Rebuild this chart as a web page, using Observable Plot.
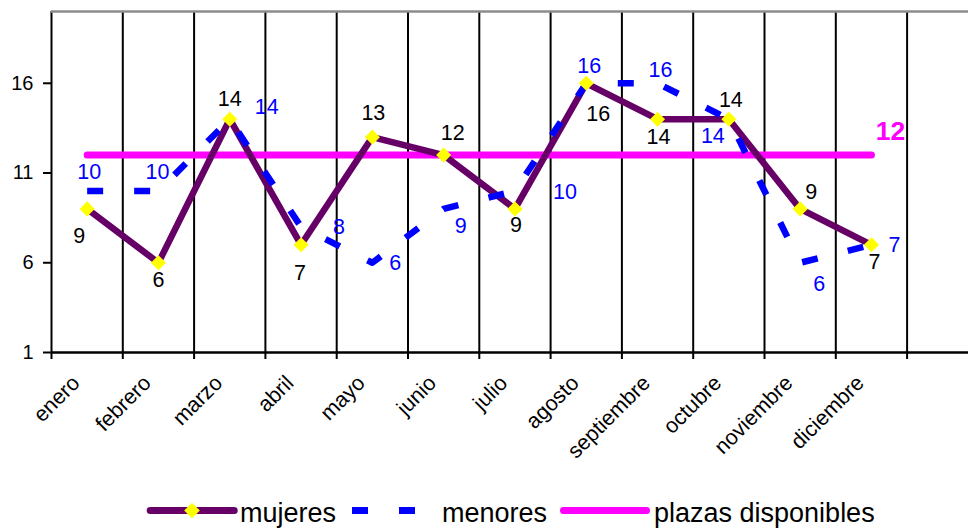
<!DOCTYPE html>
<html><head><meta charset="utf-8">
<script src="https://cdn.jsdelivr.net/npm/d3@7"></script>
<script src="https://cdn.jsdelivr.net/npm/@observablehq/plot@0.6"></script>
<style>
html,body{margin:0;padding:0;background:#fff;overflow:hidden;}
#chart{position:relative;width:968px;height:528px;font-family:"Liberation Sans",Arial,sans-serif;}
#legend{position:absolute;left:0;top:490px;width:968px;height:38px;}
#legend .t{position:absolute;top:10px;font-size:27px;line-height:27px;color:#000;white-space:nowrap;}
#legend svg{position:absolute;}
</style></head><body>
<div id="chart"><div id="plot"></div><div id="legend"></div></div>
<script>
// ---- data ----
const months = ["enero","febrero","marzo","abril","mayo","junio","julio","agosto","septiembre","octubre","noviembre","diciembre"];
const mujeres = [9, 6, 14, 7, 13, 12, 9, 16, 14, 14, 9, 7];
const menores = [10, 10, 14, 8, 6, 9, 10, 16, 16, 14, 6, 7];
const plazas = [12, 12, 12, 12, 12, 12, 12, 12, 12, 12, 12, 12];
const yTicks = [1, 6, 11, 16];
const yDomain = [1, 20];
const seriesNames = ["mujeres", "menores", "plazas disponibles"];

// ---- label placement (pixel offsets from each point) ----
const mujeresDx = [-8, 0, 0, -1, 1, 9, 1, 12, 1, 2, 11, 3];
const mujeresDy = [27, 17, -20, 28, -24, -22, 16, 31, 18, -19, -17, 17];
const menoresDx = [2, -1, 37, 38, 23, 17, 50, 3, 3, -16, 19, 23];
const menoresDy = [-19, -19, -12, 0, 0, 17, 1, -17, -13, 17, 21, 0];

const colors = {mujeres: "#660066", marker: "#FFFF00", menores: "#0000FF", plazas: "#FF00FF"};
const slots = months.length + 1; // Excel leaves one empty category at the end
const idx = d3.range(months.length);
const cx = i => i + 0.5;

const diamond = {draw(ctx, size) {
  const r = Math.sqrt(size) * 0.62625;
  ctx.moveTo(0, -r); ctx.lineTo(r, 0); ctx.lineTo(0, r); ctx.lineTo(-r, 0); ctx.closePath();
}};

const labelMarks = [];
idx.forEach(i => {
  labelMarks.push(Plot.text([i], {x: cx, y: j => mujeres[j], text: j => String(mujeres[j]),
    dx: mujeresDx[i], dy: mujeresDy[i], fontSize: 21.5, fill: "#000", lineAnchor: "middle"}));
  labelMarks.push(Plot.text([i], {x: cx, y: j => menores[j], text: j => String(menores[j]),
    dx: menoresDx[i], dy: menoresDy[i], fontSize: 21.5, fill: colors.menores, lineAnchor: "middle"}));
});
const last = plazas.length - 1;
labelMarks.push(Plot.text([last], {x: cx, y: j => plazas[j], text: j => String(plazas[j]),
  dx: 19, dy: -24, fontSize: 26.5, fontWeight: "bold", fill: colors.plazas, lineAnchor: "middle"}));

const plot = Plot.plot({
  width: 968,
  height: 490,
  marginLeft: 51,
  marginRight: 0,
  marginTop: 11,
  marginBottom: 138,
  style: {fontFamily: "'Liberation Sans', Arial, sans-serif", fontSize: "20px", background: "transparent", color: "#000"},
  x: {type: "linear", domain: [0, slots], range: [51, 51 + slots * 71.3]},
  y: {domain: yDomain},
  marks: [
    Plot.ruleX(d3.range(slots + 1), {stroke: "#000", strokeWidth: 2}),
    Plot.ruleY([yDomain[1]], {stroke: "#8c8c8c", strokeWidth: 2.5}),
    Plot.ruleY([yDomain[0]], {stroke: "#000", strokeWidth: 2.5}),
    Plot.axisY(yTicks, {tickSize: 8, tickPadding: 10, fontSize: 20, strokeWidth: 2, label: null}),
    Plot.axisX(d3.range(slots + 1), {tickSize: 7, tickFormat: () => "", strokeWidth: 2, label: null}),
    Plot.line(idx, {x: cx, y: i => plazas[i], stroke: colors.plazas, strokeWidth: 7, strokeLinecap: "round"}),
    Plot.line(idx, {x: cx, y: i => mujeres[i], stroke: colors.mujeres, strokeWidth: 6.5, strokeLinejoin: "round", strokeLinecap: "round"}),
    Plot.line(idx, {x: cx, y: i => menores[i], stroke: colors.menores, strokeWidth: 6.5, strokeDasharray: "16,31", strokeLinecap: "butt"}),
    Plot.dot(idx, {x: cx, y: i => mujeres[i], symbol: diamond, r: 6.8, fill: colors.marker, stroke: "none"}),
    Plot.text(months, {x: (d, i) => cx(i), frameAnchor: "bottom", lineAnchor: "middle", rotate: -45, textAnchor: "end", dx: -11, dy: 27, fontSize: 21.5, fill: "#000"}),
    ...labelMarks
  ]
});
document.getElementById("plot").appendChild(plot);

// ---- legend ----
const legend = document.getElementById("legend");
const NS = "http://www.w3.org/2000/svg";
function svgEl(tag, attrs, parent) {
  const e = document.createElementNS(NS, tag);
  for (const k in attrs) e.setAttribute(k, attrs[k]);
  if (parent) parent.appendChild(e);
  return e;
}
function text(label, left) {
  const d = document.createElement("div");
  d.className = "t"; d.style.left = left + "px"; d.textContent = label;
  legend.appendChild(d);
}
// mujeres
let s = svgEl("svg", {width: 93, height: 17}, legend);
s.style.left = "146px"; s.style.top = "12px";
svgEl("line", {x1: 4.2, y1: 8.5, x2: 88.2, y2: 8.5, stroke: colors.mujeres, "stroke-width": 7, "stroke-linecap": "round"}, s);
svgEl("path", {d: "M46,0.7L53.8,8.5L46,16.3L38.2,8.5Z", fill: colors.marker}, s);
text(seriesNames[0], 240);
// menores
s = svgEl("svg", {width: 70, height: 17}, legend);
s.style.left = "350px"; s.style.top = "12px";
svgEl("line", {x1: 2, y1: 8.5, x2: 66, y2: 8.5, stroke: colors.menores, "stroke-width": 7, "stroke-dasharray": "16,31"}, s);
text(seriesNames[1], 442);
// plazas
s = svgEl("svg", {width: 94, height: 17}, legend);
s.style.left = "558px"; s.style.top = "12px";
svgEl("line", {x1: 5.5, y1: 8.5, x2: 88.5, y2: 8.5, stroke: colors.plazas, "stroke-width": 7, "stroke-linecap": "round"}, s);
text(seriesNames[2], 654);
</script>
</body></html>
